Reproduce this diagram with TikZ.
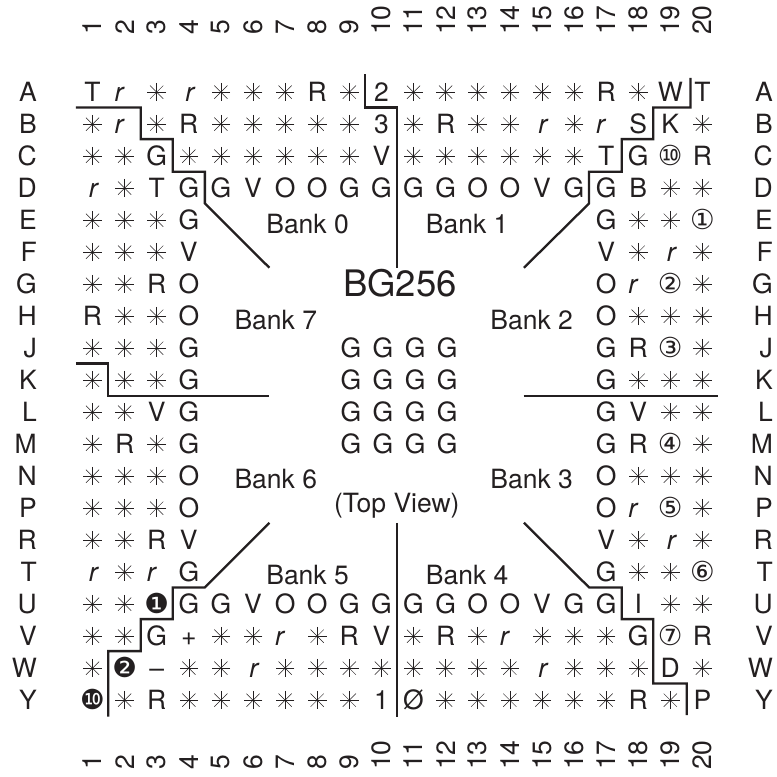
\documentclass[tikz,border=0pt]{standalone}
\usepackage{fontspec}
\setmainfont{TeX Gyre Heros}
\newfontfamily\symfont{DejaVu Sans}
\usetikzlibrary{positioning}
\definecolor{ink}{HTML}{231F20}
\tikzstyle{pin}=[anchor=base,inner sep=0pt,text=ink,font=\fontsize{26.5}{26.5}\selectfont]
\tikzstyle{lbl}=[pin,anchor=base east]
\tikzstyle{num}=[pin,anchor=west,rotate=90]
\tikzstyle{title}=[pin,font=\fontsize{36.5}{36.5}\selectfont]
\tikzstyle{bank}=[line width=2.3pt,draw=ink,line join=miter]
\newcommand{\pst}{\tikz[baseline={(0,-9.5pt)},x=1pt,y=1pt]{\foreach \a in {0,45,90,135} \draw[ink,line width=.5pt] (\a:9.3pt) -- (\a+180:9.3pt);}}
\newcommand{\pr}{\kern3.2pt\textit{r}}
\newcommand{\prl}{\textit{r}\kern9.6pt}
\newcommand{\cnum}[1]{{\symfont\fontsize{27.5}{27.5}\selectfont #1}}
\begin{document}
\begin{tikzpicture}[x=32.1pt,y=-32pt]
\useasboundingbox (-1.882,-1.897) rectangle (22.324,22.356);
% row and column labels
\foreach \name [count=\r] in {A,B,C,D,E,F,G,H,J,K,L,M,N,P,R,T,U,V,W,Y} {
  \node (rowl\r) [lbl] at (-.73,\r+.28) {\name};
  \node (rowr\r) [lbl] at (22.2,\r+.28) {\name};
}
\foreach \c in {1,...,20} {
  \node (colt\c) [num] at (\c,-.8) {\c};
  \node (colb\c) [num] at (\c,22.17) {\c};
}
% full rows
\foreach \cells/\r in {
  {T,\prl,\pst,\pr,\pst,\pst,\pst,R,\pst,2,\pst,\pst,\pst,\pst,\pst,\pst,R,\pst,W,T}/1,
  {\pst,\prl,\pst,R,\pst,\pst,\pst,\pst,\pst,3,\pst,R,\pst,\pst,\pr,\pst,\prl,S,K,\pst}/2,
  {\pst,\pst,G,\pst,\pst,\pst,\pst,\pst,\pst,V,\pst,\pst,\pst,\pst,\pst,\pst,T,G,\cnum{⑩},R}/3,
  {\pr,\pst,T,G,G,V,O,O,G,G,G,G,O,O,V,G,G,B,\pst,\pst}/4,
  {\pst,\pst,\cnum{❶},G,G,V,O,O,G,G,G,G,O,O,V,G,G,I,\pst,\pst}/17,
  {\pst,\pst,G,+,\pst,\pst,\prl,\pst,R,V,\pst,R,\pst,\prl,\pst,\pst,\pst,G,\cnum{⑦},R}/18,
  {\pst,\cnum{❷},--,\pst,\pst,\pr,\pst,\pst,\pst,\pst,\pst,\pst,\pst,\pst,\pr,\pst,\pst,\pst,D,\pst}/19,
  {\cnum{❿},\pst,R,\pst,\pst,\pst,\pst,\pst,\pst,1,Ø,\pst,\pst,\pst,\pst,\pst,\pst,R,\pst,P}/20
} {
  \foreach \p [count=\c] in \cells
    \node (pin\r-\c) [pin] at (\c,\r+.28) {\p};
}
% rows with an open middle
\foreach \cells/\r in {
  {\pst,\pst,\pst,G,G,\pst,\pst,\cnum{①}}/5,
  {\pst,\pst,\pst,V,V,\pst,\pr,\pst}/6,
  {\pst,\pst,R,O,O,\prl,\cnum{②},\pst}/7,
  {R,\pst,\pst,O,O,\pst,\pst,\pst}/8,
  {\pst,\pst,\pst,G,G,R,\cnum{③},\pst}/9,
  {\pst,\pst,\pst,G,G,\pst,\pst,\pst}/10,
  {\pst,\pst,V,G,G,V,\pst,\pst}/11,
  {\pst,R,\pst,G,G,R,\cnum{④},\pst}/12,
  {\pst,\pst,\pst,O,O,\pst,\pst,\pst}/13,
  {\pst,\pst,\pst,O,O,\prl,\cnum{⑤},\pst}/14,
  {\pst,\pst,R,V,V,\pst,\pr,\pst}/15,
  {\pr,\pst,\prl,G,G,\pst,\pst,\cnum{⑥}}/16
} {
  \foreach \p [count=\i] in \cells {
    \pgfmathtruncatemacro{\c}{\i>4 ? \i+12 : \i}
    \node (pin\r-\c) [pin] at (\c,\r+.28) {\p};
  }
}
% centre block
\foreach \r in {9,...,12}
  \foreach \c in {9,...,12}
    \node (gnd\r-\c) [pin] at (\c+.05,\r+.28) {G};
\node (title) [title] at (10.58,7.37) {BG256};
\node (view) [pin] at (10.48,14.11) {(Top View)};
\node (bank0) [pin] at (7.70,5.39) {Bank 0};
\node (bank1) [pin] at (12.67,5.39) {Bank 1};
\node (bank2) [pin] at (14.68,8.39) {Bank 2};
\node (bank3) [pin] at (14.68,13.38) {Bank 3};
\node (bank4) [pin] at (12.67,16.38) {Bank 4};
\node (bank5) [pin] at (7.70,16.38) {Bank 5};
\node (bank6) [pin] at (6.71,13.38) {Bank 6};
\node (bank7) [pin] at (6.71,8.39) {Bank 7};
% bank borders
\draw[bank] (.48,1.46) -- (2.5,1.46) -- (2.5,2.45) -- (3.5,2.45) -- (3.5,3.47) -- (4.5,3.47) -- (4.5,4.46) -- (6.51,6.47);
\draw[bank] (9.49,.42) -- (9.49,1.46) -- (10.48,1.46) -- (10.48,6.47);
\draw[bank] (14.44,6.47) -- (16.47,4.46) -- (16.47,3.47) -- (17.49,3.47) -- (17.49,2.45) -- (18.47,2.45) -- (18.47,1.46) -- (19.63,1.46) -- (19.63,.54);
\draw[bank] (.48,9.46) -- (1.49,9.46) -- (1.49,10.47) -- (6.51,10.47);
\draw[bank] (14.43,10.47) -- (20.48,10.47);
\draw[bank] (6.51,14.44) -- (4.5,16.46) -- (3.5,16.46) -- (3.5,17.45) -- (2.5,17.45) -- (2.5,18.45) -- (1.49,18.45) -- (1.49,20.5);
\draw[bank] (10.48,14.44) -- (10.48,20.5);
\draw[bank] (14.44,14.44) -- (16.47,16.46) -- (17.49,16.46) -- (17.49,17.45) -- (18.47,17.45) -- (18.47,19.46) -- (19.51,19.46) -- (19.51,20.45);
\end{tikzpicture}
\end{document}
